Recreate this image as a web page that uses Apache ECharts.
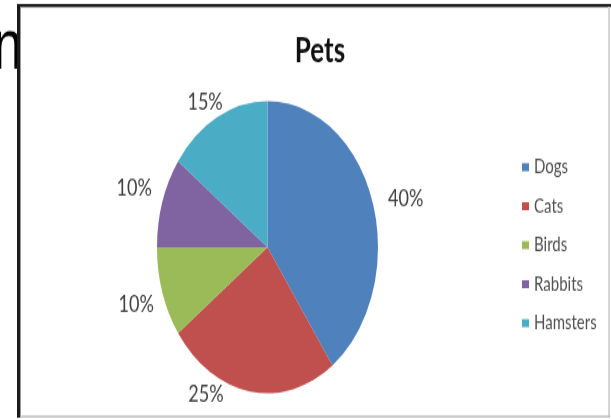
<!DOCTYPE html>
<html>
<head>
<meta charset="utf-8">
<script src="https://cdn.jsdelivr.net/npm/echarts@6/dist/echarts.min.js"></script>
<style>
html,body{margin:0;padding:0;background:#fff;overflow:hidden;}
#wrap{width:611px;height:419px;overflow:hidden;position:relative;}
#chart{width:611px;height:317px;transform:scaleY(1.3218);transform-origin:0 0;}
</style>
</head>
<body>
<div id="wrap"><div id="chart"></div></div>
<script>
// data
var titleText = 'Pets';
var categories = ['Dogs', 'Cats', 'Birds', 'Rabbits', 'Hamsters'];
var shares = [40, 25, 10, 10, 15];
var colors = ['#4F81BD', '#C0504D', '#9BBB59', '#8064A2', '#4BACC6'];
// label nudges (style only)
var labelNudge = [[-3, 0], [-16, -7.5], [10, 6], [8, -7.5], [19, -2.3]];

var chart = echarts.init(document.getElementById('chart'), null, {renderer: 'canvas'});
var FONT = 'Lato, "Open Sans", sans-serif';

var pieData = categories.map(function (c, i) {
  return {name: c, value: shares[i], itemStyle: {color: colors[i]}};
});

chart.setOption({
  backgroundColor: '#ffffff',
  animation: false,
  title: {
    text: titleText,
    left: 315,
    top: 21,
    textAlign: 'center',
    textStyle: {fontFamily: FONT, fontWeight: 'bold', fontSize: 26, color: '#111'}
  },
  legend: {
    orient: 'vertical',
    left: 522,
    top: 119,
    padding: 0,
    itemWidth: 7,
    itemHeight: 6,
    itemGap: 14.5,
    icon: 'rect',
    data: categories,
    textStyle: {fontFamily: FONT, fontSize: 15, color: '#505050'}
  },
  graphic: [
    {type: 'text', left: -7, top: 11, z: 1, style: {text: 'n', font: '53px "Liberation Sans", sans-serif', fill: '#000'}},
    {type: 'rect', shape: {x: 17, y: 3, width: 3, height: 313}, style: {fill: '#1b1b1b'}, z: 5},
    {type: 'rect', shape: {x: 20, y: 3, width: 1, height: 313}, style: {fill: '#9a9a9a'}, z: 5},
    {type: 'rect', shape: {x: 17, y: 3, width: 594, height: 2.3}, style: {fill: '#1b1b1b'}, z: 5},
    {type: 'rect', shape: {x: 20, y: 5.3, width: 591, height: 0.8}, style: {fill: '#9a9a9a'}, z: 5},
    {type: 'rect', shape: {x: 608, y: 5, width: 2, height: 311}, style: {fill: '#d6d6d6'}, z: 5},
    {type: 'rect', shape: {x: 20, y: 314.6, width: 590, height: 1.2}, style: {fill: '#b0b0b0'}, z: 5}
  ],
  series: [{
    type: 'pie',
    center: [267.5, 187],
    radius: 110.5,
    startAngle: 90,
    clockwise: true,
    data: pieData,
    itemStyle: {borderWidth: 0},
    label: {
      show: true,
      position: 'outside',
      formatter: '{d}%',
      fontFamily: FONT,
      fontSize: 18,
      color: '#404040'
    },
    labelLine: {show: false, length: 10, length2: 4},
    labelLayout: function (p) {
      var n = labelNudge[p.dataIndex];
      return {dx: n[0], dy: n[1]};
    },
    emphasis: {disabled: true}
  }]
});
</script>
</body>
</html>
